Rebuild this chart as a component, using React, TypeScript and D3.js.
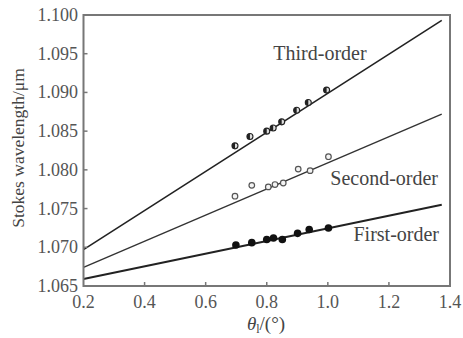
import React from "react";
import * as d3 from "d3";

const xTicks = [0.2, 0.4, 0.6, 0.8, 1.0, 1.2, 1.4];
const yTicks = [1.065, 1.07, 1.075, 1.08, 1.085, 1.09, 1.095, 1.1];

const fitX = [0.2, 1.373];
const thirdFit = [1.0697, 1.0993];
const secondFit = [1.0674, 1.0872];
const firstFit = [1.0659, 1.0755];

const thirdX = [0.696, 0.745, 0.8, 0.821, 0.849, 0.898, 0.936, 0.996];
const thirdY = [1.0831, 1.0843, 1.085, 1.0854, 1.0862, 1.0877, 1.0887, 1.0903];
const secondX = [0.696, 0.751, 0.805, 0.827, 0.854, 0.903, 0.942, 1.002];
const secondY = [1.0766, 1.078, 1.0778, 1.0781, 1.0783, 1.0801, 1.0799, 1.0817];
const firstX = [0.699, 0.751, 0.8, 0.822, 0.851, 0.901, 0.939, 1.002];
const firstY = [1.0703, 1.0706, 1.071, 1.0712, 1.071, 1.0718, 1.0723, 1.0725];

const W = 463, H = 338;
const L = 83.5, R = 450, T = 15, B = 286;

export default function App() {
  const x = d3.scaleLinear().domain([0.2, 1.4]).range([L, R]);
  const y = d3.scaleLinear().domain([1.065, 1.1]).range([B, T]);
  const line = d3.line<[number, number]>().x(d => x(d[0])).y(d => y(d[1]));
  const mk = (ys: number[]) => line(fitX.map((v, i) => [v, ys[i]] as [number, number])) || "";
  const font = "'Liberation Serif', 'Times New Roman', serif";
  return (
    <svg width={W} height={H} style={{ position: "absolute", left: 0, top: 0, background: "#fff" }}>
      <rect x={0} y={0} width={W} height={H} fill="#fff" />
      <path d={mk(thirdFit)} stroke="#222" strokeWidth={1.6} fill="none" />
      <path d={mk(secondFit)} stroke="#333" strokeWidth={1.4} fill="none" />
      <path d={mk(firstFit)} stroke="#222" strokeWidth={2} fill="none" />
      {thirdX.map((v, i) => (
        <g key={"t" + i}>
          <circle cx={x(v)} cy={y(thirdY[i])} r={3} fill="#ddd" stroke="#222" strokeWidth={1.1} />
          <path d={`M${x(v)},${y(thirdY[i]) - 3} A3,3 0 0 0 ${x(v)},${y(thirdY[i]) + 3} Z`} fill="#222" />
        </g>
      ))}
      {secondX.map((v, i) => (
        <circle key={"s" + i} cx={x(v)} cy={y(secondY[i])} r={2.8} fill="#f4f4f4" stroke="#555" strokeWidth={1.2} />
      ))}
      {firstX.map((v, i) => (
        <circle key={"f" + i} cx={x(v)} cy={y(firstY[i])} r={3.8} fill="#111" />
      ))}
      <rect x={L} y={T} width={R - L} height={B - T} fill="none" stroke="#777" strokeWidth={2} />
      {xTicks.slice(1, -1).map(t => (
        <line key={"xt" + t} x1={x(t)} x2={x(t)} y1={B} y2={B - 4} stroke="#777" strokeWidth={1.5} />
      ))}
      {yTicks.slice(1, -1).map(t => (
        <line key={"yt" + t} x1={L} x2={L + 4} y1={y(t)} y2={y(t)} stroke="#777" strokeWidth={1.5} />
      ))}
      {xTicks.map(t => (
        <text key={"xl" + t} x={x(t)} y={308} textAnchor="middle" fontFamily={font} fontSize={18} fill="#555">
          {t.toFixed(1)}
        </text>
      ))}
      {yTicks.map(t => (
        <text key={"yl" + t} x={78} y={y(t) + 6} textAnchor="end" fontFamily={font} fontSize={18} fill="#555">
          {t.toFixed(3)}
        </text>
      ))}
      <text x={18} y={148} transform="rotate(-90 18 148)" dy={6} textAnchor="middle" fontFamily={font} fontSize={17.5} fill="#444">
        Stokes wavelength/μm
      </text>
      <text x={266} y={330} textAnchor="middle" fontFamily={font} fontSize={19} fill="#444">
        <tspan fontStyle="italic">θ</tspan>
        <tspan fontSize={12} dy={3}>l</tspan>
        <tspan dy={-3}>/(°)</tspan>
      </text>
      <text x={320} y={60} textAnchor="middle" fontFamily={font} fontSize={20} fill="#444">Third-order</text>
      <text x={438} y={185} textAnchor="end" fontFamily={font} fontSize={20} fill="#444">Second-order</text>
      <text x={439} y={241} textAnchor="end" fontFamily={font} fontSize={20} fill="#444">First-order</text>
    </svg>
  );
}
